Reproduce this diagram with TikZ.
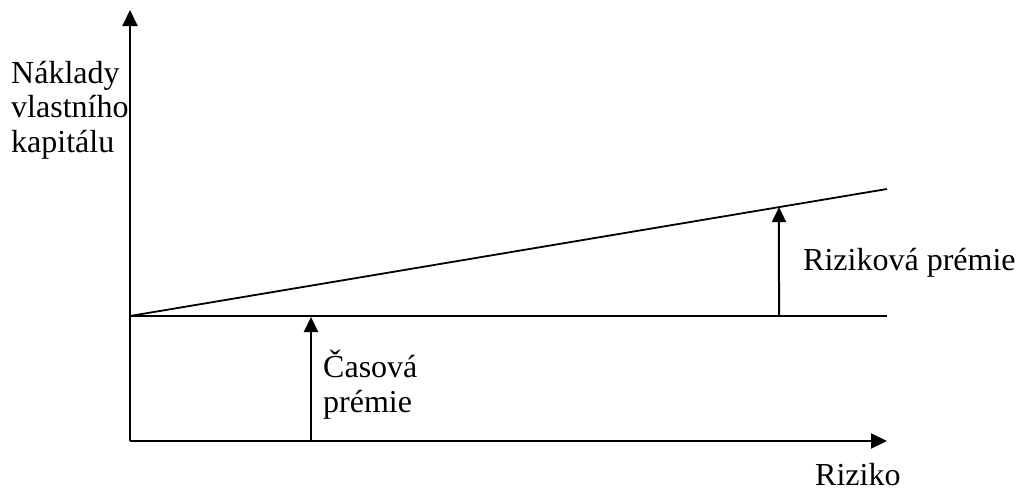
\documentclass[tikz,border=0pt]{standalone}
\usepackage{fontspec}
\setmainfont{Liberation Serif}
\usetikzlibrary{arrows.meta}
\begin{document}
\begin{tikzpicture}[x=1pt,y=-1pt,
  axis/.style={line width=2pt,-{Triangle[length=16pt,width=15pt]}},
  rate/.style={line width=1.8pt},
  premium/.style={line width=2pt,-{Triangle[length=15pt,width=14pt]}},
  lbl/.style={anchor=base west,inner sep=0pt,font=\fontsize{32}{34.5}\selectfont,align=left}]
  \useasboundingbox (0,0) rectangle (1018,490);
  % axes
  \coordinate (O) at (130,441);
  \coordinate (ytop) at (130,10);
  \coordinate (xend) at (887,441);
  \draw[axis] (O) -- (ytop);
  \draw[axis] (O) -- (xend);
  % risk-free rate and cost of equity
  \coordinate (r0) at (130,316);
  \coordinate (rf) at (887,316);
  \coordinate (ce) at (887,189);
  \draw[rate] (r0) -- (rf);
  \draw[rate] (r0) -- (ce);
  % premium arrows
  \coordinate (t0) at (311,441);
  \coordinate (t1) at (311,317);
  \draw[premium] (t0) -- (t1);
  \coordinate (p0) at (779,316);
  \path (r0) -- (ce) coordinate[pos=0.8573] (p1);
  \draw[premium] (p0) -- (p1);
  % labels (multi-line nodes are placed by the baseline of their last line)
  \node[lbl] (ylab) at (11,152) {Náklady\\vlastního\\kapitálu};
  \node[lbl] (xlab) at (815,485) {Riziko};
  \node[lbl] (rp) at (803,270) {Riziková prémie};
  \node[lbl] (tp) at (323,412) {Časová\\prémie};
\end{tikzpicture}
\end{document}
